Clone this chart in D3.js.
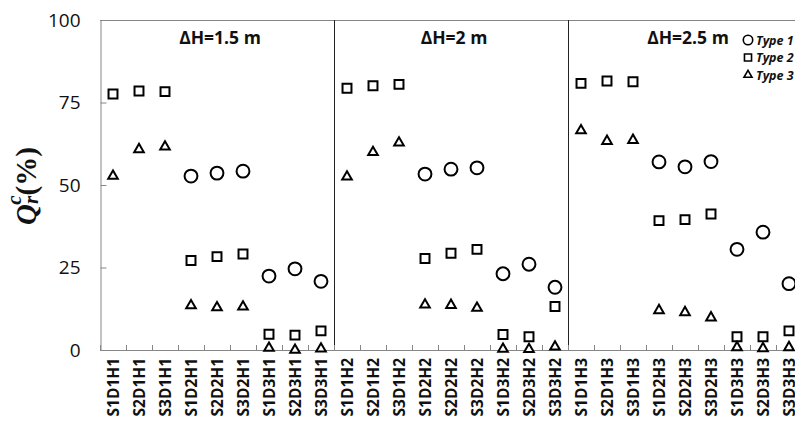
<!DOCTYPE html>
<html>
<head>
<meta charset="utf-8">
<script src="https://cdn.jsdelivr.net/npm/d3@7"></script>
<style>
  html, body { margin: 0; padding: 0; background: #fff; }
  svg { display: block; }
</style>
</head>
<body>
<svg id="chart" width="795" height="423"></svg>
<script>
// Test cases along the x axis, grouped by head difference
const categories = [
  "S1D1H1","S2D1H1","S3D1H1","S1D2H1","S2D2H1","S3D2H1","S1D3H1","S2D3H1","S3D3H1",
  "S1D1H2","S2D1H2","S3D1H2","S1D2H2","S2D2H2","S3D2H2","S1D3H2","S2D3H2","S3D3H2",
  "S1D1H3","S2D1H3","S3D1H3","S1D2H3","S2D2H3","S3D2H3","S1D3H3","S2D3H3","S3D3H3"
];
const panelTitles = ["\u0394H=1.5 m", "\u0394H=2 m", "\u0394H=2.5 m"];
const seriesNames = ["Type 1", "Type 2", "Type 3"];

// Qr^c (%) for each case; null where the type was not measured
const type1 = [null,null,null,52.7,53.6,54.2,22.4,24.6,20.8,
               null,null,null,53.3,54.8,55.2,23.1,26.0,19.0,
               null,null,null,57.0,55.5,57.1,30.5,35.7,20.1];
const type2 = [77.6,78.5,78.3,27.1,28.3,29.1,4.8,4.5,5.8,
               79.3,80.1,80.5,27.7,29.3,30.5,4.7,4.0,13.2,
               80.8,81.5,81.3,39.2,39.5,41.2,4.0,4.0,5.8];
const type3 = [52.7,60.8,61.6,13.5,12.9,13.1,0.6,0.0,0.4,
               52.5,59.9,62.8,13.7,13.6,12.7,0.3,0.2,1.0,
               66.5,63.3,63.6,12.0,11.4,9.8,0.8,0.5,0.8];
const yTicks = [0, 25, 50, 75, 100];

const svg = d3.select("#chart");
const plotLeft = 100, plotTop = 20, plotBottom = 350, plotRight = 802;

const x = d3.scaleBand().domain(categories).range([plotLeft, plotRight]).paddingInner(0).paddingOuter(0);
const y = d3.scaleLinear().domain([0, 100]).range([plotBottom, plotTop]);

const sans = "'Open Sans', 'Liberation Sans', sans-serif";
const axisGray = "#868686";

// frame: top border
svg.append("line")
  .attr("x1", plotLeft).attr("x2", plotRight)
  .attr("y1", y(100) + 0.5).attr("y2", y(100) + 0.5)
  .attr("stroke", axisGray).attr("stroke-width", 1);

// panel dividers
const panelStarts = [0, 9, 18];
panelStarts.slice(1).forEach(i => {
  svg.append("line")
    .attr("x1", Math.round(x(categories[i])) + 0.5).attr("x2", Math.round(x(categories[i])) + 0.5)
    .attr("y1", y(100)).attr("y2", y(0))
    .attr("stroke", "#222").attr("stroke-width", 1);
});

// y axis with inward ticks
const yAxis = svg.append("g")
  .attr("transform", `translate(${plotLeft + 0.5},0)`)
  .call(d3.axisLeft(y).tickValues(yTicks).tickSizeInner(-6).tickSizeOuter(0).tickPadding(20));
yAxis.select(".domain").attr("stroke", axisGray);
yAxis.selectAll(".tick line").attr("stroke", axisGray);
yAxis.selectAll(".tick text")
  .attr("font-family", sans).attr("font-size", 19).attr("fill", "#111");

// x axis: baseline, boundary ticks, rotated case labels
svg.append("line")
  .attr("x1", plotLeft).attr("x2", plotRight)
  .attr("y1", y(0) + 0.5).attr("y2", y(0) + 0.5)
  .attr("stroke", axisGray).attr("stroke-width", 1);
const boundaries = d3.range(categories.length + 1).map(i => plotLeft + i * x.step());
svg.append("g").selectAll("line").data(boundaries).join("line")
  .attr("x1", d => Math.round(d) + 0.5).attr("x2", d => Math.round(d) + 0.5)
  .attr("y1", y(0)).attr("y2", y(0) - 5)
  .attr("stroke", axisGray);
svg.append("g").selectAll("text").data(categories).join("text")
  .attr("transform", d => `translate(${x(d) + x.bandwidth() / 2 + 5.5},${y(0) + 8}) rotate(-90)`)
  .attr("text-anchor", "end")
  .attr("font-family", sans).attr("font-weight", 700).attr("font-size", 15.5)
  .attr("fill", "#111")
  .text(d => d);

// panel titles
panelTitles.forEach((t, k) => {
  const x0 = x(categories[panelStarts[k]]);
  const cx = x0 + 9 * x.step() / 2 + 3;
  svg.append("text")
    .attr("x", cx).attr("y", 44)
    .attr("text-anchor", "middle")
    .attr("font-family", sans).attr("font-weight", 700).attr("font-size", 17.5)
    .attr("fill", "#111")
    .text(t);
});

// y axis title: Q with subscript r and superscript c, then (%)
const yTitle = svg.append("text")
  .attr("transform", "translate(36,186) rotate(-90)")
  .attr("text-anchor", "middle")
  .attr("font-family", "'Liberation Serif', 'Times New Roman', serif")
  .attr("font-weight", 700).attr("font-size", 29).attr("fill", "#111");
yTitle.append("tspan").attr("font-style", "italic").text("Q");
yTitle.append("tspan").attr("font-style", "italic").attr("font-size", 21).attr("dy", 2).text("r");
yTitle.append("tspan").attr("font-style", "italic").attr("font-size", 21).attr("dx", -9).attr("dy", -17).text("c");
yTitle.append("tspan").attr("dy", 15).attr("dx", 0).text("(%)");

// markers
const series = [
  { values: type1, shape: d3.symbolCircle, size: 130 },
  { values: type2, shape: d3.symbolSquare, size: 80 },
  { values: type3, shape: d3.symbolTriangle, size: 40 }
];
series.forEach(s => {
  const pts = categories.map((c, i) => ({ c, v: s.values[i] })).filter(p => p.v !== null);
  svg.append("g").selectAll("path").data(pts).join("path")
    .attr("d", d3.symbol().type(s.shape).size(s.size))
    .attr("transform", p => `translate(${x(p.c) + x.bandwidth() / 2},${y(p.v)})`)
    .attr("fill", "#fff").attr("stroke", "#000").attr("stroke-width", 2);
});

// legend, running past the right edge of the plot
const legendX = 748, legendY = [40, 57.5, 75];
series.forEach((s, k) => {
  svg.append("path")
    .attr("d", d3.symbol().type(s.shape).size(k === 0 ? 70 : (k === 1 ? 50 : 28))())
    .attr("transform", `translate(${legendX},${legendY[k]})`)
    .attr("fill", "#fff").attr("stroke", "#000").attr("stroke-width", 1.6);
  svg.append("text")
    .attr("x", legendX + 8).attr("y", legendY[k] + 4.5)
    .attr("font-family", sans).attr("font-weight", 700).attr("font-style", "italic")
    .attr("font-size", 12.5).attr("fill", "#111")
    .text(seriesNames[k]);
});
</script>
</body>
</html>
